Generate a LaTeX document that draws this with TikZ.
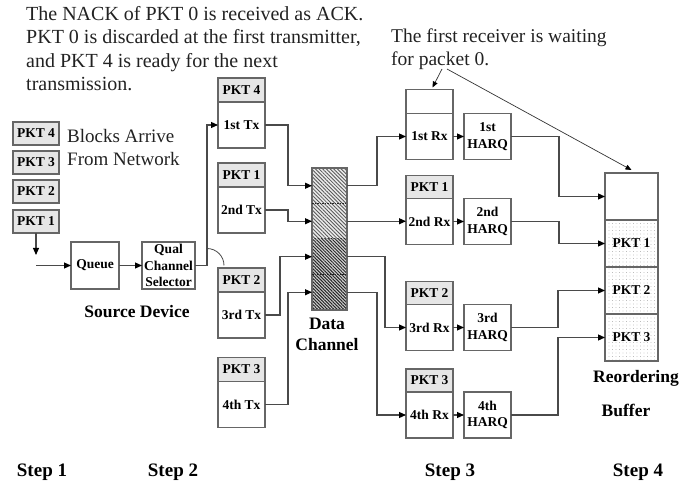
\documentclass[tikz,border=0pt]{standalone}
\usepackage{fontspec}
\setmainfont{Liberation Serif}
\usetikzlibrary{arrows.meta,positioning,patterns.meta}
\definecolor{boxline}{HTML}{666666}
\definecolor{wirecol}{HTML}{4A4A4A}
\definecolor{hdrfill}{HTML}{E6E6E6}
\definecolor{notetext}{HTML}{222222}
\begin{document}
\begin{tikzpicture}[x=1pt,y=-1pt,
  lbl/.style={font=\bfseries\fontsize{13.5}{16.5}\selectfont},
  box/.style={draw=boxline, line width=1.2pt, inner sep=0pt, outer sep=0pt, align=center, lbl},
  body/.style={box, minimum width=47pt, minimum height=46pt},
  hdr/.style={box, fill=hdrfill, minimum width=47pt, minimum height=24pt},
  pkt/.style={box, fill=hdrfill, minimum width=46pt, minimum height=23pt},
  cell/.style={box, minimum width=53pt, minimum height=47pt},
  dotcell/.style={cell, preaction={fill=white}, pattern={Dots[distance=3.5pt,radius=0.45pt]}, pattern color=gray!80},
  chseg/.style={inner sep=0pt, outer sep=0pt, minimum width=35pt, minimum height=35.5pt},
  chlight/.style={chseg, preaction={fill=gray!15}, pattern={Lines[angle=-45,distance=2.6pt,line width=0.85pt]}, pattern color=black!65},
  chdark/.style={chseg, preaction={fill=gray!35}, pattern={Lines[angle=-45,distance=2.3pt,line width=1pt]}, pattern color=black!85},
  wire/.style={draw=wirecol, line width=1.1pt, -{Triangle[length=7pt,width=6pt,color=black]}},
  plainwire/.style={draw=wirecol, line width=1.1pt},
  pointer/.style={draw=black!80, line width=0.7pt, -{Triangle[length=6pt,width=5pt,color=black]}},
  note/.style={font=\fontsize{20}{23.5}\selectfont, text=notetext, inner sep=0pt, anchor=base west},
  title/.style={font=\bfseries\fontsize{17.5}{20}\selectfont, inner sep=0pt, anchor=base},
  steplbl/.style={title, font=\bfseries\fontsize{19}{22}\selectfont},
]
\useasboundingbox (0,0) rectangle (680,486);

% explanatory notes along the top
\node[note] (n1) at (26,20.5) {The NACK of PKT 0 is received as ACK.};
\node[note] (n2) at (26,44) {PKT 0 is discarded at the first transmitter,};
\node[note] (n3) at (26,67.5) {and PKT 4 is ready for the next};
\node[note] (n4) at (26,91) {transmission.};
\node[note, font=\fontsize{19.5}{23}\selectfont] (w1) at (391,42.5) {The first receiver is waiting};
\node[note, font=\fontsize{19.5}{23}\selectfont] (w2) at (391,66) {for packet 0.};

% step 1: blocks arriving from the network
\node[pkt] (s4) at (36,133.5) {PKT 4};
\node[pkt] (s3) at (36,162.5) {PKT 3};
\node[pkt] (s2) at (36,191.5) {PKT 2};
\node[pkt] (s1) at (36,221.5) {PKT 1};
\node[note, font=\fontsize{19}{23}\selectfont] (blk1) at (67,143) {Blocks Arrive};
\node[note, font=\fontsize{19}{23}\selectfont] (blk2) at (67,166) {From Network};

% transmitters
\node[body] (tx1) at (241.5,125) {1st Tx};
\node[hdr, above=0pt of tx1] (tx1h) {PKT 4};
\node[body] (tx2) at (241.5,210) {2nd Tx};
\node[hdr, above=0pt of tx2] (tx2h) {PKT 1};
\node[body] (tx3) at (241.5,315) {3rd Tx};
\node[hdr, above=0pt of tx3] (tx3h) {PKT 2};
\node[body] (tx4) at (241.5,404.5) {4th Tx};
\node[hdr, above=0pt of tx4] (tx4h) {PKT 3};

% source device
\node[box, minimum width=48pt, minimum height=47pt] (queue) at (95,265.5) {Queue};
\node[box, minimum width=53pt, minimum height=47pt] (sel) at (168.5,265.5) {Qual\\Channel\\Selector};
\node[title] (src) at (137,318) {Source Device};
\coordinate (drop) at (36,255);
\coordinate (feed) at (36,265.5);
\coordinate (sw) at (207,265.5);
\draw[wire] (s1.south) -- (drop);
\draw[wire] (feed) -- (queue.west);
\draw[wire] (queue) -- (sel);
\draw[wire] (sel.east) -- (sw) |- (tx1.west);
\draw[plainwire, line width=0.8pt] (sw) ++(0,-17) arc[start angle=-90, end angle=0, radius=17];

% data channel
\node[chlight] (ch1) at (329.5,185.75) {};
\node[chlight] (ch2) at (329.5,221.25) {};
\node[chdark] (ch3) at (329.5,256.75) {};
\node[chdark] (ch4) at (329.5,292.25) {};
\draw[draw=boxline, line width=1.2pt] (ch1.north west) rectangle (ch4.south east);
\draw[black!85, line width=1pt, dash pattern=on 1.5pt off 1pt] (ch1.south west) -- (ch1.south east);
\draw[black!85, line width=1pt, dash pattern=on 1.5pt off 1pt] (ch3.south west) -- (ch3.south east);
\node[title, font=\bfseries\fontsize{17.5}{20.5}\selectfont] (chl1) at (327,330) {Data};
\node[title, font=\bfseries\fontsize{17.5}{20.5}\selectfont] (chl2) at (327,350.5) {Channel};

\draw[wire] (tx1.east) -- ++(23,0) |- (ch1.west);
\draw[wire] (tx2.east) -- ++(23,0) |- (ch2.west);
\draw[wire] (tx3.east) -- ++(15,0) |- (ch3.west);
\draw[wire] (tx4.east) -- ++(23,0) |- (ch4.west);

% receivers and HARQ units
\node[body] (rx1) at (429.5,136.5) {1st Rx};
\node[hdr, fill=white, above=0pt of rx1] (rx1h) {};
\node[body] (rx2) at (429.5,221.5) {2nd Rx};
\node[hdr, minimum height=23pt, above=0pt of rx2] (rx2h) {PKT 1};
\node[body] (rx3) at (429.5,327.5) {3rd Rx};
\node[hdr, minimum height=23pt, above=0pt of rx3] (rx3h) {PKT 2};
\node[body] (rx4) at (429.5,415) {4th Rx};
\node[hdr, minimum height=23pt, above=0pt of rx4] (rx4h) {PKT 3};

\node[body] (h1) at (487.5,136.5) {1st\\HARQ};
\node[body] (h2) at (487.5,221.5) {2nd\\HARQ};
\node[body] (h3) at (487.5,327.5) {3rd\\HARQ};
\node[body] (h4) at (487.5,415) {4th\\HARQ};

\draw[wire] (ch1.east) -- ++(30,0) |- (rx1.west);
\draw[wire] (ch2.east) -- (ch2.east -| rx2.west);
\draw[wire] (ch3.east) -- ++(38,0) |- (rx3.west);
\draw[wire] (ch4.east) -- ++(30,0) |- (rx4.west);
\draw[wire] (rx1) -- (h1);
\draw[wire] (rx2) -- (h2);
\draw[wire] (rx3) -- (h3);
\draw[wire] (rx4) -- (h4);

% reordering buffer
\node[cell] (b0) at (631.5,196.5) {};
\node[dotcell, below=0pt of b0] (b1) {PKT 1};
\node[dotcell, below=0pt of b1] (b2) {PKT 2};
\node[dotcell, below=0pt of b2] (b3) {PKT 3};
\node[title] (rb1) at (636,382.5) {Reordering};
\node[title] (rb2) at (626,416) {Buffer};

\draw[wire] (h1.east) -- ++(48,0) |- (b0.west);
\draw[wire] (h2.east) -- ++(48,0) |- (b1.west);
\draw[wire] (h3.east) -- ++(47,0) |- (b2.west);
\draw[wire] (h4.east) -- ++(47,0) |- (b3.west);

% pointers from the receiver note
\coordinate (p1) at (442,69);
\coordinate (p2) at (447,69);
\draw[pointer] (p1) -- ([xshift=3pt,yshift=2pt]rx1h.north);
\draw[pointer] (p2) -- ([yshift=3pt]b0.north);

% step labels
\node[steplbl] (st1) at (42,476) {Step 1};
\node[steplbl] (st2) at (173,476) {Step 2};
\node[steplbl] (st3) at (450,476) {Step 3};
\node[steplbl] (st4) at (638,476) {Step 4};
\end{tikzpicture}
\end{document}
